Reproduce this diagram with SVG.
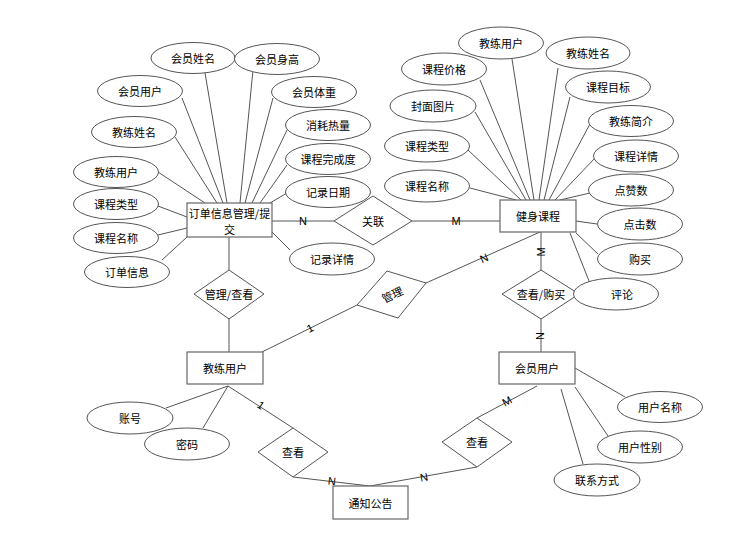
<svg xmlns="http://www.w3.org/2000/svg" width="744" height="541" viewBox="0 0 744 541">
<style>
.e{fill:#fff;stroke:#555;stroke-width:1}
.r{fill:#fff;stroke:#666;stroke-width:1.2}
.d{fill:#fff;stroke:#555;stroke-width:1}
.l{stroke:#555;stroke-width:1;fill:none}
text{font-family:"Noto Sans CJK SC","Liberation Sans",sans-serif;font-size:11px;fill:#000;text-anchor:middle;dominant-baseline:central}
.lb{font-family:"Liberation Sans",Arial,sans-serif;font-size:11px}
.bt{font-size:11px}
</style>
<rect width="744" height="541" fill="#fff"/>
<g id="connectors">
<path class="l" d="M205,73 L227,203 M253,70 L240,203 M182,98 L223,203 M273,98 L245,203 M175,137 L217,203 M287,130 L252,203 M158,172 L205,203 M287,165 L260,203 M158,206 L187,217 M287,193 L270,203 M158,235 L187,228 M162,260 L187,237 M290,250 L272,232"/>
<path class="l" d="M470,188 L516,200 M468,150 L521,200 M475,112 L526,200 M480,80 L530,200 M512,59 L534,200 M558,68 L539,200 M570,97 L544,200 M590,124 L549,200 M595,158 L555,200 M590,193 L560,200 M597,224 L576,221 M598,254 L576,233 M591,286 L570,233"/>
<path class="l" d="M272,221 L334,221 M412,221 L500,221 M229,237 L229,270 M229,319 L229,352 M262,352 L357,305 M426,283 L540,232 M541,232 L541,270 M541,319 L541,352"/>
<path class="l" d="M228,386 L166,408 M228,386 L203,428 M228,386 L293,428 M293,477 L370,486 M537,386 L477,418 M477,467 L370,486 M575,368 L625,397 M575,387 L608,436 M561,389 L583,464"/>
<text class="lb" x="303" y="221">N</text>
<text class="lb" x="456" y="221">M</text>
<text class="lb" transform="translate(541,252) rotate(-90)">M</text>
<text class="lb" transform="translate(540,336) rotate(-90)">N</text>
<text class="lb" transform="translate(484,258) rotate(-24)">N</text>
<text class="lb" transform="translate(310,328) rotate(-26)">1</text>
<text class="lb" transform="translate(261,405) rotate(33)">1</text>
<text class="lb" transform="translate(332,481) rotate(7)">N</text>
<text class="lb" transform="translate(507,401) rotate(-28)">M</text>
<text class="lb" transform="translate(424,477) rotate(-10)">N</text>
</g>
<g id="order"><rect class="r" x="187" y="203" width="85" height="34"/><text class="bt" x="229.5" y="213">订单信息管理/提</text><text class="bt" x="229.5" y="229">交</text></g>
<g id="course"><rect class="r" x="500" y="200" width="76" height="32"/><text x="538" y="216">健身课程</text></g>
<g id="coach"><rect class="r" x="187" y="352" width="76" height="32"/><text x="225" y="368">教练用户</text></g>
<g id="member"><rect class="r" x="499" y="352" width="76" height="32"/><text x="537" y="368">会员用户</text></g>
<g id="notice"><rect class="r" x="333" y="486" width="75" height="33"/><text x="370.5" y="502.5">通知公告</text></g>
<g id="rel-guanlian"><polygon class="d" points="334,221 373,196 412,221 373,245"/><text x="373" y="221">关联</text></g>
<g id="rel-guanlichakan"><polygon class="d" points="194,294 229,270 264,294 229,319"/><text x="229" y="294">管理/查看</text></g>
<g id="rel-guanli"><polygon class="d" points="357,305 387,271 426,283 398,318"/><text transform="translate(392,294) rotate(-25)">管理</text></g>
<g id="rel-chakangoumai"><polygon class="d" points="502,294 541,270 579,294 541,319"/><text x="541" y="294">查看/购买</text></g>
<g id="rel-chakan1"><polygon class="d" points="258,452 293,428 328,452 293,477"/><text x="293" y="452">查看</text></g>
<g id="rel-chakan2"><polygon class="d" points="442,442 477,418 512,442 477,467"/><text x="477" y="442">查看</text></g>
<g id="a1"><ellipse class="e" cx="193" cy="58" rx="42" ry="15.5"/><text x="193" y="58">会员姓名</text></g>
<g id="a2"><ellipse class="e" cx="277" cy="59" rx="42.5" ry="15.5"/><text x="277" y="59">会员身高</text></g>
<g id="a3"><ellipse class="e" cx="140" cy="91" rx="42.5" ry="15.5"/><text x="140" y="91">会员用户</text></g>
<g id="a4"><ellipse class="e" cx="314" cy="92" rx="42.5" ry="15.5"/><text x="314" y="92">会员体重</text></g>
<g id="a5"><ellipse class="e" cx="134" cy="132" rx="42.5" ry="15.5"/><text x="134" y="132">教练姓名</text></g>
<g id="a6"><ellipse class="e" cx="328" cy="125" rx="42.5" ry="15.5"/><text x="328" y="125">消耗热量</text></g>
<g id="a7"><ellipse class="e" cx="116" cy="172" rx="42.5" ry="15.5"/><text x="116" y="172">教练用户</text></g>
<g id="a8"><ellipse class="e" cx="328" cy="159" rx="42.5" ry="15.5"/><text x="328" y="159">课程完成度</text></g>
<g id="a9"><ellipse class="e" cx="116" cy="204" rx="42.5" ry="15.5"/><text x="116" y="204">课程类型</text></g>
<g id="a10"><ellipse class="e" cx="328" cy="192" rx="42.5" ry="15.5"/><text x="328" y="192">记录日期</text></g>
<g id="a11"><ellipse class="e" cx="116" cy="238" rx="42.5" ry="15.5"/><text x="116" y="238">课程名称</text></g>
<g id="a12"><ellipse class="e" cx="127" cy="272" rx="42.5" ry="15.5"/><text x="127" y="272">订单信息</text></g>
<g id="a13"><ellipse class="e" cx="332" cy="259" rx="42.5" ry="16"/><text x="332" y="259">记录详情</text></g>
<g id="b1"><ellipse class="e" cx="501" cy="43" rx="42.5" ry="16"/><text x="501" y="43">教练用户</text></g>
<g id="b2"><ellipse class="e" cx="588" cy="53" rx="42" ry="16"/><text x="588" y="53">教练姓名</text></g>
<g id="b3"><ellipse class="e" cx="444" cy="69" rx="42.5" ry="16"/><text x="444" y="69">课程价格</text></g>
<g id="b4"><ellipse class="e" cx="608" cy="87" rx="42.5" ry="16"/><text x="608" y="87">课程目标</text></g>
<g id="b5"><ellipse class="e" cx="433" cy="106" rx="43" ry="16"/><text x="433" y="106">封面图片</text></g>
<g id="b6"><ellipse class="e" cx="631" cy="121" rx="42.5" ry="15.5"/><text x="631" y="121">教练简介</text></g>
<g id="b7"><ellipse class="e" cx="427" cy="146" rx="42.5" ry="16"/><text x="427" y="146">课程类型</text></g>
<g id="b8"><ellipse class="e" cx="636" cy="156" rx="42.5" ry="16"/><text x="636" y="156">课程详情</text></g>
<g id="b9"><ellipse class="e" cx="427" cy="186" rx="42.5" ry="16"/><text x="427" y="186">课程名称</text></g>
<g id="b10"><ellipse class="e" cx="631" cy="190" rx="42.5" ry="16"/><text x="631" y="190">点赞数</text></g>
<g id="b11"><ellipse class="e" cx="640" cy="224" rx="42.5" ry="16"/><text x="640" y="224">点击数</text></g>
<g id="b12"><ellipse class="e" cx="640" cy="259" rx="42.5" ry="16"/><text x="640" y="259">购买</text></g>
<g id="b13"><ellipse class="e" cx="616" cy="294" rx="42.5" ry="16"/><text x="622" y="294">评论</text></g>
<g id="c1"><ellipse class="e" cx="130" cy="418" rx="43" ry="16"/><text x="130" y="418">账号</text></g>
<g id="c2"><ellipse class="e" cx="187" cy="444" rx="42.5" ry="16"/><text x="187" y="444">密码</text></g>
<g id="c3"><ellipse class="e" cx="660" cy="407" rx="42.5" ry="15.5"/><text x="660" y="407">用户名称</text></g>
<g id="c4"><ellipse class="e" cx="640" cy="447" rx="42.5" ry="16"/><text x="640" y="447">用户性别</text></g>
<g id="c5"><ellipse class="e" cx="597" cy="480" rx="43" ry="16"/><text x="597" y="480">联系方式</text></g>
</svg>
